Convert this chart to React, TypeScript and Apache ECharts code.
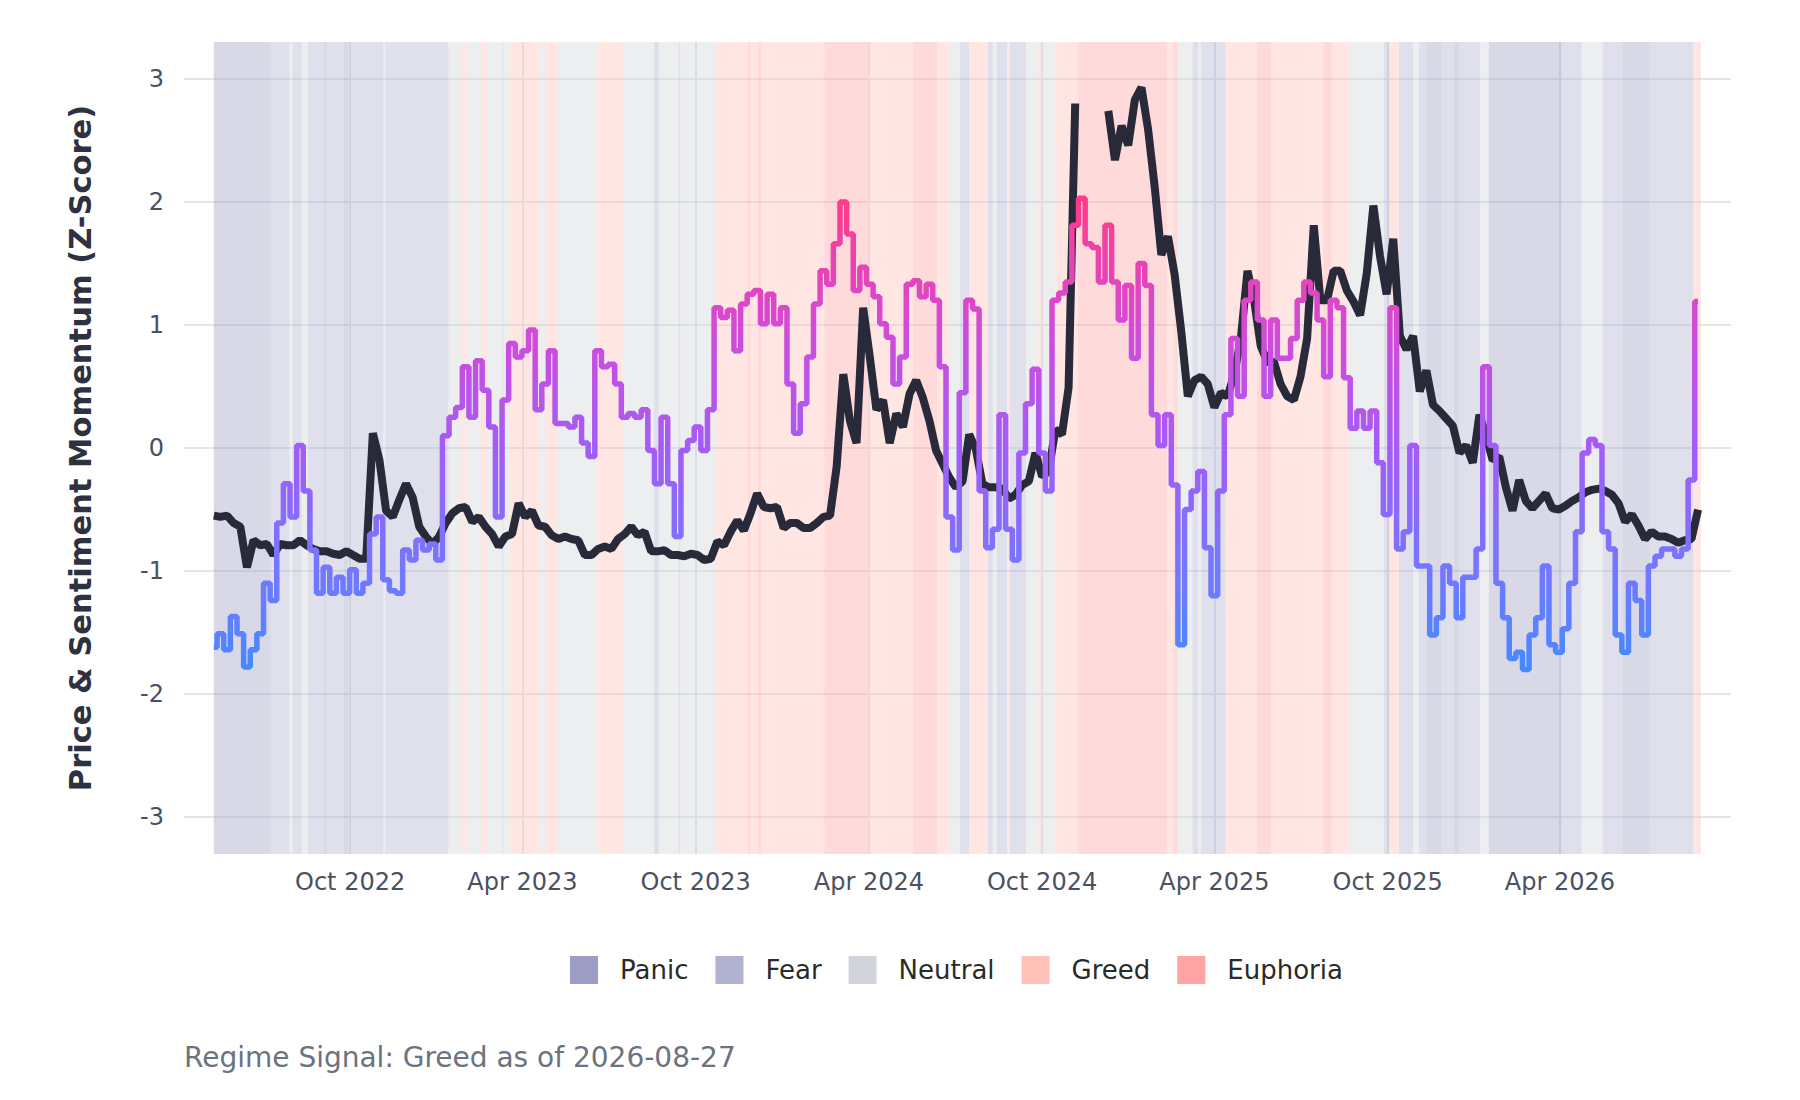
import React, { useEffect, useRef } from 'react';
import * as echarts from 'echarts';

const START_DATE = '2022-05-10';
const STEP_DAYS = 7;

// Price momentum (z-score), one value per week from START_DATE
const priceMomentum: (number | null)[] = [
  -0.55, -0.56, -0.55, -0.61, -0.64, -0.97, -0.75, -0.79, -0.78, -0.87,
  -0.78, -0.79, -0.79, -0.75, -0.79, -0.82, -0.84, -0.84, -0.86, -0.87,
  -0.84, -0.87, -0.90, -0.90, 0.12, -0.10, -0.51, -0.56, -0.42, -0.29,
  -0.40, -0.64, -0.72, -0.78, -0.72, -0.61, -0.53, -0.49, -0.48, -0.60,
  -0.56, -0.64, -0.70, -0.80, -0.72, -0.70, -0.45, -0.56, -0.51, -0.63,
  -0.64, -0.71, -0.74, -0.72, -0.74, -0.75, -0.87, -0.87,
  -0.82, -0.80, -0.82, -0.74, -0.70, -0.64, -0.71, -0.68, -0.84, -0.84,
  -0.83, -0.87, -0.87, -0.88, -0.86, -0.87, -0.91, -0.90, -0.76, -0.79,
  -0.68, -0.59, -0.67, -0.53, -0.37, -0.48, -0.49, -0.48, -0.65, -0.61,
  -0.61, -0.65, -0.65, -0.61, -0.56, -0.55, -0.15, 0.60, 0.22, 0.04,
  1.14, 0.74, 0.31, 0.39, 0.04, 0.28, 0.17, 0.44, 0.55, 0.41,
  0.22, -0.02, -0.13, -0.24, -0.32,
  -0.27,
  0.11, -0.01, -0.29, -0.32, -0.32, -0.33, -0.41, -0.38, -0.30, -0.27,
  -0.04, -0.23, -0.19, 0.15, 0.11, 0.49, 2.80, null, null, null,
  null, 2.74, 2.34, 2.62, 2.46, 2.83, 2.93, 2.59, 2.12, 1.57,
  1.72, 1.41, 0.95, 0.42, 0.55, 0.58, 0.52, 0.33, 0.45, 0.42,
  0.60, 0.89, 1.44, 1.20, 0.83, 0.70, 0.70, 0.52, 0.42, 0.39,
  0.58, 0.89, 1.81, 1.20, 1.20, 1.44,
  1.44, 1.28, 1.19, 1.08, 1.42, 1.97, 1.56, 1.25, 1.70, 0.91,
  0.80, 0.91, 0.46, 0.63, 0.35, 0.30, 0.24, 0.18, -0.04, 0.02,
  -0.12, 0.27, 0.10, -0.10, -0.07, -0.32, -0.51, -0.26, -0.43, -0.49,
  -0.43, -0.37, -0.49, -0.50, -0.47, -0.43, -0.40, -0.36, -0.34, -0.33,
  -0.35, -0.38, -0.45, -0.60, -0.54, -0.63, -0.74, -0.68, -0.72, -0.72,
  -0.74, -0.77, -0.75, -0.74, -0.50,
];

// Sentiment momentum (z-score), one value per week from START_DATE
const sentimentMomentum: number[] = [
  -1.62, -1.51, -1.64, -1.37, -1.51, -1.78, -1.64, -1.51, -1.10, -1.24,
  -0.61, -0.29, -0.56, 0.02, -0.35, -0.83, -1.18, -0.97, -1.18, -1.05,
  -1.18, -0.99, -1.18, -1.10, -0.70, -0.56, -1.07, -1.16, -1.18, -0.83,
  -0.91, -0.75, -0.83, -0.78, -0.91, 0.10, 0.25, 0.33, 0.66, 0.25,
  0.71, 0.47, 0.17, -0.56, 0.39, 0.85, 0.74, 0.79, 0.96, 0.31,
  0.52, 0.79, 0.20, 0.20, 0.17, 0.25, 0.04, -0.07,
  0.79, 0.66, 0.68, 0.52, 0.25, 0.28, 0.25, 0.31, -0.02, -0.29,
  0.25, -0.29, -0.72, -0.02, 0.06, 0.17, -0.02, 0.31, 1.14, 1.06,
  1.12, 0.79, 1.17, 1.25, 1.28, 1.01, 1.25, 1.01, 1.14, 0.52,
  0.12, 0.36, 0.74, 1.17, 1.44, 1.33, 1.66, 2.00, 1.74, 1.28,
  1.47, 1.33, 1.23, 1.01, 0.90, 0.52, 0.74, 1.33, 1.36, 1.23,
  1.33, 1.20, 0.66, -0.56, -0.83,
  0.45,
  1.20, 1.13, -0.35, -0.81, -0.66, 0.27, -0.66, -0.91, -0.04, 0.36,
  0.64, -0.04, -0.35, 1.20, 1.26, 1.35, 1.81, 2.03, 1.66, 1.63,
  1.35, 1.81, 1.35, 1.04, 1.32, 0.73, 1.50, 1.32, 0.27, 0.02,
  0.27, -0.30, -1.60, -0.50, -0.35, -0.19, -0.81, -1.20, -0.35, 0.27,
  0.89, 0.42, 1.20, 1.35, 1.04, 0.42, 1.04, 0.73, 0.73, 0.89,
  1.20, 1.35, 1.26, 1.04, 0.58, 1.20,
  1.14, 0.57, 0.16, 0.30, 0.16, 0.30, -0.12, -0.54, 1.14, -0.82,
  -0.68, 0.02, -0.96, -0.96, -1.52, -1.38, -0.96, -1.10, -1.38, -1.05,
  -1.05, -0.82, 0.66, 0.02, -1.10, -1.38, -1.71, -1.66, -1.80, -1.52,
  -1.38, -0.96, -1.60, -1.66, -1.47, -1.10, -0.68, -0.04, 0.07, 0.02,
  -0.68, -0.82, -1.52, -1.66, -1.10, -1.24, -1.52, -0.96, -0.88, -0.82,
  -0.82, -0.88, -0.82, -0.26, 1.19,
];

const regimeNames = ['Panic', 'Fear', 'Neutral', 'Greed', 'Euphoria'];
const regimeColors = ['#9d9dc4', '#b1b1d1', '#d1d4da', '#ffc1b8', '#ffa3a3'];
const regimeFills = [
  'rgba(157,157,196,0.4)',
  'rgba(177,177,209,0.4)',
  'rgba(209,212,218,0.4)',
  'rgba(255,193,184,0.4)',
  'rgba(255,163,163,0.4)',
];

// Consecutive regime runs: length in days and regime label
const regimeRunDays = [
  60, 20, 3, 10, 6, 17, 3, 18, 5, 37,
  2, 67, 13, 6, 15, 7, 16, 1, 6, 32,
  6, 13, 43, 26, 33, 5, 21, 2, 37, 34,
  3, 8, 3, 67, 46, 48, 25, 13, 11, 10,
  20, 5, 4, 11, 3, 17, 12, 5, 14, 24,
  94, 7, 4, 16, 6, 3, 26, 33, 15, 55,
  9, 18, 37, 6, 10, 15, 6, 8, 16, 13,
  6, 22, 9, 77, 21, 22, 21, 29, 46, 8,
];
const regimeRunLabels = [
  'Panic', 'Fear', 'Neutral', 'Fear', 'Neutral', 'Fear', 'Panic', 'Fear', 'Panic', 'Fear',
  'Neutral', 'Fear', 'Neutral', 'Greed', 'Neutral', 'Greed', 'Neutral', 'Fear', 'Neutral', 'Greed',
  'Neutral', 'Greed', 'Neutral', 'Greed', 'Neutral', 'Fear', 'Neutral', 'Fear', 'Neutral', 'Greed',
  'Euphoria', 'Greed', 'Euphoria', 'Greed', 'Euphoria', 'Greed', 'Euphoria', 'Greed', 'Neutral', 'Fear',
  'Greed', 'Fear', 'Neutral', 'Fear', 'Greed', 'Fear', 'Neutral', 'Greed', 'Neutral', 'Greed',
  'Euphoria', 'Greed', 'Euphoria', 'Neutral', 'Fear', 'Neutral', 'Fear', 'Greed', 'Euphoria', 'Greed',
  'Euphoria', 'Greed', 'Neutral', 'Fear', 'Greed', 'Fear', 'Neutral', 'Fear', 'Panic', 'Fear',
  'Panic', 'Fear', 'Neutral', 'Panic', 'Fear', 'Neutral', 'Fear', 'Panic', 'Fear', 'Greed',
];

const xTickDates = [
  '2022-10-01', '2023-04-01', '2023-10-01', '2024-04-01',
  '2024-10-01', '2025-04-01', '2025-10-01', '2026-04-01',
];
const yTicks = [-3, -2, -1, 0, 1, 2, 3];
const signalRegime = 'Greed';
const signalDate = '2026-08-27';
const yAxisTitle = 'Price & Sentiment Momentum (Z-Score)';

const MONTHS = ['Jan', 'Feb', 'Mar', 'Apr', 'May', 'Jun', 'Jul', 'Aug', 'Sep', 'Oct', 'Nov', 'Dec'];
const DAY = 86400000;
const FONT = 'DejaVu Sans';

function buildOption() {
  const t0 = Date.parse(START_DATE + 'T00:00:00Z');
  const priceData = priceMomentum.map((v, i) => [t0 + i * STEP_DAYS * DAY, v === null ? '-' : v]);
  const sentimentData = sentimentMomentum.map((v, i) => [t0 + i * STEP_DAYS * DAY, v]);

  const bands: number[][][] = regimeNames.map(() => []);
  let cursor = 0;
  regimeRunDays.forEach((len, i) => {
    const r = regimeNames.indexOf(regimeRunLabels[i]);
    bands[r].push([t0 + cursor * DAY, t0 + (cursor + len) * DAY, 0]);
    cursor += len;
  });
  const totalDays = cursor;

  const xTicks = xTickDates.map((d) => Date.parse(d + 'T00:00:00Z'));

  const bandSeries = regimeNames.map((name, r) => ({
    name,
    type: 'custom',
    z: 1,
    silent: true,
    clip: true,
    itemStyle: { color: regimeColors[r] },
    encode: { x: [0, 1], y: 2 },
    data: bands[r],
    renderItem: (params: any, api: any) => {
      const x0 = api.coord([api.value(0), 0])[0];
      const x1 = api.coord([api.value(1), 0])[0];
      const cs = params.coordSys;
      return {
        type: 'rect',
        shape: { x: x0, y: cs.y, width: x1 - x0, height: cs.height },
        style: { fill: regimeFills[r] },
        silent: true,
      };
    },
  }));

  return {
    animation: false,
    backgroundColor: '#ffffff',
    textStyle: { fontFamily: FONT },
    grid: { left: 184, right: 69, top: 42, bottom: 246 },
    title: {
      text: `Regime Signal: ${signalRegime} as of ${signalDate}`,
      left: 179,
      top: 1038,
      textStyle: { fontFamily: FONT, fontSize: 28, fontWeight: 'normal', color: '#6b7280' },
    },
    legend: {
      data: regimeNames,
      left: 565,
      top: 951,
      icon: 'rect',
      itemWidth: 28,
      itemHeight: 28,
      itemGap: 27,
      selectedMode: false,
      textStyle: { fontFamily: FONT, fontSize: 26, color: '#2a2a2a', padding: [0, 0, 0, 17] },
    },
    visualMap: {
      type: 'continuous',
      show: false,
      seriesIndex: 6,
      dimension: 1,
      min: -2,
      max: 2,
      inRange: { color: ['#3b8eff', '#7477ff', '#a35cf7', '#d44ad6', '#ff3b8a'] },
    },
    xAxis: {
      type: 'value',
      min: t0 - 31.5 * DAY,
      max: t0 + (totalDays + 31.8) * DAY,
      axisLine: { show: false },
      axisTick: { show: false, customValues: xTicks },
      axisLabel: {
        customValues: xTicks,
        fontFamily: FONT,
        fontSize: 24,
        color: '#4b5060',
        margin: 16,
        formatter: (v: number) => {
          const d = new Date(v);
          return `${MONTHS[d.getUTCMonth()]} ${d.getUTCFullYear()}`;
        },
      },
      splitLine: { show: true, lineStyle: { color: '#e2e6ec', width: 2 } },
    },
    yAxis: {
      type: 'value',
      min: -3.3,
      max: 3.3,
      name: yAxisTitle,
      nameLocation: 'middle',
      nameGap: 88,
      nameTextStyle: { fontFamily: FONT, fontSize: 30.5, fontWeight: 'bold', color: '#2e3140' },
      axisLine: { show: false },
      axisTick: { show: false, customValues: yTicks },
      axisLabel: {
        customValues: yTicks,
        fontFamily: FONT,
        fontSize: 24,
        color: '#4b5060',
        margin: 20,
        formatter: (v: number) => String(v),
      },
      splitLine: { show: true, lineStyle: { color: '#e2e6ec', width: 2 } },
    },
    series: [
      ...bandSeries,
      {
        name: 'Price Momentum',
        type: 'line',
        z: 3,
        data: priceData,
        showSymbol: false,
        symbol: 'none',
        connectNulls: false,
        lineStyle: { color: '#282a3a', width: 8 },
        itemStyle: { color: '#282a3a' },
      },
      {
        name: 'Sentiment Momentum',
        type: 'line',
        z: 4,
        step: 'middle',
        data: sentimentData,
        showSymbol: false,
        symbol: 'none',
        lineStyle: { width: 5.5 },
      },
    ],
  };
}

export default function App() {
  const ref = useRef<HTMLDivElement>(null);
  useEffect(() => {
    document.body.style.margin = '0';
    const chart = echarts.init(ref.current as HTMLDivElement, null, {
      renderer: 'svg',
      width: 1800,
      height: 1100,
    });
    chart.setOption(buildOption() as any);
    return () => {
      chart.dispose();
    };
  }, []);
  return <div ref={ref} style={{ width: 1800, height: 1100 }} />;
}
